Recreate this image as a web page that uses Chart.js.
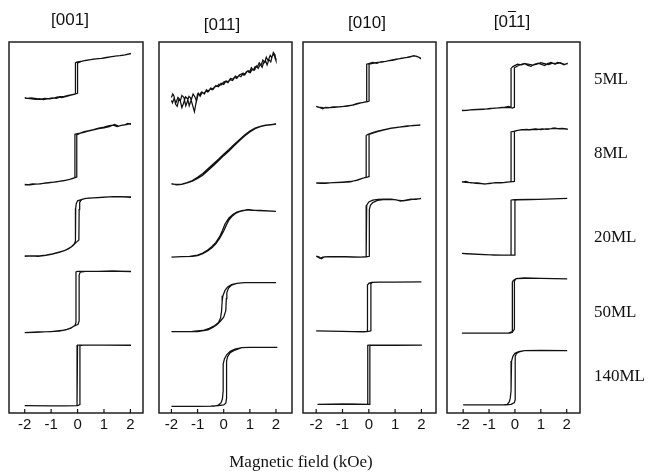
<!DOCTYPE html>
<html>
<head>
<meta charset="utf-8">
<script src="https://cdn.jsdelivr.net/npm/chart.js@4.4.0/dist/chart.umd.min.js"></script>
<style>
  body { margin: 0; background: #fff; }
  #fig { position: relative; width: 649px; height: 472px; overflow: hidden; }
  #fig canvas { position: absolute; left: 0; top: 0; }
  .dir { position: absolute; font: 17px "Liberation Sans", Arial, sans-serif; color: #111; transform: translate(-50%, -50%); white-space: nowrap; }
  .ml { position: absolute; left: 594px; font: 17px "Liberation Serif", "Times New Roman", serif; color: #111; transform: translateY(-50%); }
  .xlab { position: absolute; left: 301px; top: 462px; font: 17px "Liberation Serif", "Times New Roman", serif; color: #111; transform: translate(-50%, -50%); white-space: nowrap; }
  .bar { text-decoration: overline; }
</style>
</head>
<body>
<div id="fig">
  <canvas id="c0" width="649" height="472"></canvas>
  <canvas id="c1" width="649" height="472"></canvas>
  <canvas id="c2" width="649" height="472"></canvas>
  <canvas id="c3" width="649" height="472"></canvas>
  <div class="dir" style="left:70px;top:20px">[001]</div>
  <div class="dir" style="left:222px;top:25px">[011]</div>
  <div class="dir" style="left:367px;top:23px">[010]</div>
  <div class="dir" style="left:512px;top:22px">[0<span class="bar">1</span>1]</div>
  <div class="ml" style="top:79px">5ML</div>
  <div class="ml" style="top:153px">8ML</div>
  <div class="ml" style="top:237px">20ML</div>
  <div class="ml" style="top:312px">50ML</div>
  <div class="ml" style="top:376px">140ML</div>
  <div class="xlab">Magnetic field (kOe)</div>
</div>
<script>
// thickness rows, top to bottom
const thicknesses = ['5ML', '8ML', '20ML', '50ML', '140ML'];
const fieldTicks = [-2, -1, 0, 1, 2];

// each loop: [field kOe, Kerr signal] - ascending branch, then descending branch
const loops001 = [
  [[-2.0,-0.64],[-1.8,-0.66],[-1.6,-0.68],[-1.45,-0.66],[-1.3,-0.69],[-1.1,-0.66],[-0.95,-0.63],[-0.8,-0.65],[-0.65,-0.6],[-0.5,-0.58],[-0.35,-0.55],[-0.2,-0.52],[0.0,-0.48],[0.0,0.54],[0.15,0.6],[0.3,0.63],[0.5,0.66],[0.7,0.68],[0.9,0.7],[1.1,0.73],[1.3,0.76],[1.5,0.78],[1.7,0.8],[1.9,0.83],[2.0,0.85],
   [2.0,0.86],[1.8,0.82],[1.6,0.79],[1.4,0.77],[1.2,0.74],[1.0,0.71],[0.8,0.69],[0.6,0.67],[0.4,0.64],[0.2,0.61],[0.0,0.58],[-0.08,0.55],[-0.08,-0.5],[-0.25,-0.54],[-0.45,-0.59],[-0.6,-0.62],[-0.75,-0.6],[-0.9,-0.64],[-1.05,-0.67],[-1.25,-0.65],[-1.4,-0.68],[-1.55,-0.66],[-1.75,-0.63],[-1.9,-0.65],[-2.0,-0.62]],
  [[-2.0,-1.05],[-1.8,-1.06],[-1.6,-1.04],[-1.4,-1.03],[-1.2,-1.0],[-1.0,-0.98],[-0.8,-0.96],[-0.6,-0.93],[-0.4,-0.9],[-0.2,-0.85],[-0.03,-0.8],[-0.03,0.62],[0.1,0.68],[0.25,0.73],[0.4,0.76],[0.6,0.8],[0.8,0.85],[1.0,0.88],[1.2,0.93],[1.35,0.95],[1.5,0.9],[1.65,0.94],[1.8,0.96],[1.9,1.01],[2.0,0.98],
   [2.0,1.0],[1.85,0.97],[1.7,0.95],[1.55,0.92],[1.4,0.97],[1.2,0.9],[1.0,0.86],[0.8,0.83],[0.6,0.79],[0.4,0.75],[0.2,0.7],[0.0,0.66],[-0.1,0.64],[-0.1,-0.82],[-0.3,-0.88],[-0.5,-0.92],[-0.7,-0.95],[-0.9,-0.97],[-1.1,-1.0],[-1.3,-1.01],[-1.5,-1.04],[-1.7,-1.03],[-1.9,-1.06],[-2.0,-1.07]],
  [[-2.0,-0.96],[-1.7,-0.96],[-1.45,-0.96],[-1.2,-0.93],[-0.95,-0.89],[-0.7,-0.83],[-0.5,-0.78],[-0.35,-0.72],[-0.2,-0.63],[-0.05,-0.5],[0.05,-0.42],[0.06,0.6],[0.08,0.85],[0.15,0.94],[0.3,0.98],[0.6,1.0],[1.0,1.02],[1.4,1.04],[1.7,1.03],[2.0,1.02],
   [2.0,1.03],[1.6,1.04],[1.2,1.03],[0.8,1.01],[0.4,0.99],[0.2,0.96],[0.0,0.9],[-0.05,0.8],[-0.07,0.65],[-0.08,-0.45],[-0.12,-0.55],[-0.25,-0.66],[-0.45,-0.76],[-0.7,-0.84],[-0.95,-0.9],[-1.2,-0.94],[-1.5,-0.97],[-1.75,-0.96],[-2.0,-0.97]],
  [[-2.0,-1.04],[-1.5,-1.02],[-1.0,-1.01],[-0.6,-0.97],[-0.4,-0.93],[-0.25,-0.88],[-0.12,-0.82],[0.02,-0.76],[0.06,-0.65],[0.06,0.9],[0.1,1.0],[0.3,1.02],[0.8,1.02],[1.3,1.03],[2.0,1.01],
   [2.0,1.02],[1.4,1.03],[0.8,1.02],[0.3,1.02],[0.0,1.02],[-0.06,1.0],[-0.06,-0.7],[-0.1,-0.8],[-0.25,-0.89],[-0.45,-0.95],[-0.7,-0.99],[-1.2,-1.02],[-1.6,-1.03],[-2.0,-1.04]],
  [[-2.0,-1.01],[-0.5,-1.01],[0.0,-1.0],[0.09,-0.97],[0.09,1.02],[0.2,1.04],[1.0,1.04],[2.0,1.03],
   [2.0,1.04],[1.0,1.04],[0.0,1.04],[-0.02,1.03],[-0.02,-1.0],[-0.1,-1.01],[-1.0,-1.01],[-2.0,-1.0]]
];

const loops011 = [
  [[-2.0,-0.62],[-1.95,-0.5],[-1.9,-0.58],[-1.84,-0.85],[-1.78,-0.92],[-1.72,-0.7],[-1.66,-0.74],[-1.6,-0.55],[-1.52,-0.62],[-1.45,-0.9],[-1.4,-0.78],[-1.33,-0.58],[-1.27,-0.63],[-1.2,-0.85],[-1.12,-1.1],[-1.06,-0.8],[-1.0,-0.5],[-0.92,-0.52],[-0.85,-0.44],[-0.76,-0.48],[-0.68,-0.4],[-0.62,-0.43],[-0.52,-0.33],[-0.44,-0.36],[-0.35,-0.26],[-0.25,-0.24],[-0.18,-0.17],[-0.1,-0.2],[0.0,-0.1],[0.1,-0.06],[0.17,-0.09],[0.26,0.02],[0.35,0.0],[0.45,0.1],[0.52,0.06],[0.6,0.14],[0.7,0.18],[0.78,0.13],[0.86,0.24],[0.95,0.28],[1.02,0.22],[1.1,0.34],[1.18,0.3],[1.25,0.44],[1.32,0.36],[1.4,0.5],[1.47,0.4],[1.53,0.56],[1.6,0.62],[1.66,0.48],[1.73,0.66],[1.8,0.58],[1.86,0.78],[1.92,0.84],[1.97,0.7],[2.0,0.62],
   [2.0,0.62],[1.96,0.82],[1.9,0.9],[1.84,0.72],[1.78,0.8],[1.7,0.62],[1.63,0.74],[1.57,0.56],[1.5,0.64],[1.43,0.46],[1.36,0.55],[1.28,0.4],[1.2,0.42],[1.13,0.3],[1.06,0.38],[0.98,0.22],[0.9,0.27],[0.82,0.16],[0.74,0.2],[0.66,0.08],[0.58,0.12],[0.5,0.02],[0.42,0.06],[0.34,-0.05],[0.25,-0.02],[0.16,-0.12],[0.08,-0.08],[0.0,-0.18],[-0.1,-0.14],[-0.2,-0.26],[-0.3,-0.22],[-0.4,-0.34],[-0.5,-0.3],[-0.58,-0.42],[-0.66,-0.36],[-0.74,-0.5],[-0.82,-0.44],[-0.9,-0.58],[-0.97,-0.48],[-1.04,-0.75],[-1.1,-0.6],[-1.17,-0.5],[-1.25,-0.72],[-1.32,-0.9],[-1.38,-0.66],[-1.46,-0.6],[-1.54,-0.82],[-1.6,-0.96],[-1.67,-0.7],[-1.75,-0.62],[-1.82,-0.78],[-1.9,-0.66],[-1.96,-0.8],[-2.0,-0.72]],
  [[-2.0,-1.03],[-1.8,-1.06],[-1.6,-1.05],[-1.4,-1.0],[-1.2,-0.94],[-1.0,-0.85],[-0.8,-0.74],[-0.6,-0.58],[-0.4,-0.42],[-0.2,-0.25],[0.0,-0.08],[0.2,0.08],[0.4,0.25],[0.6,0.42],[0.8,0.58],[1.0,0.72],[1.2,0.83],[1.4,0.9],[1.6,0.94],[1.8,0.96],[2.0,0.98],
   [2.0,0.98],[1.8,0.97],[1.6,0.95],[1.4,0.91],[1.2,0.85],[1.0,0.75],[0.8,0.62],[0.6,0.46],[0.4,0.3],[0.2,0.13],[0.0,-0.03],[-0.2,-0.2],[-0.4,-0.36],[-0.6,-0.52],[-0.8,-0.68],[-1.0,-0.81],[-1.2,-0.92],[-1.4,-0.99],[-1.6,-1.04],[-1.8,-1.05],[-2.0,-1.04]],
  [[-2.0,-1.0],[-1.6,-0.98],[-1.2,-0.97],[-1.0,-0.95],[-0.8,-0.88],[-0.6,-0.78],[-0.45,-0.68],[-0.3,-0.55],[-0.15,-0.36],[0.0,-0.12],[0.1,0.08],[0.2,0.25],[0.3,0.36],[0.45,0.47],[0.6,0.53],[0.8,0.58],[1.0,0.59],[1.3,0.57],[1.6,0.56],[1.8,0.55],[2.0,0.54],
   [2.0,0.54],[1.7,0.56],[1.4,0.58],[1.1,0.58],[0.9,0.59],[0.7,0.57],[0.5,0.52],[0.35,0.44],[0.2,0.32],[0.05,0.12],[-0.05,-0.1],[-0.15,-0.3],[-0.3,-0.5],[-0.45,-0.64],[-0.6,-0.75],[-0.8,-0.86],[-1.0,-0.93],[-1.3,-0.97],[-1.6,-0.98],[-2.0,-1.0]],
  [[-2.0,-1.01],[-1.0,-1.01],[-0.6,-0.95],[-0.4,-0.86],[-0.25,-0.77],[-0.12,-0.65],[0.0,-0.52],[0.08,-0.3],[0.1,0.1],[0.12,0.3],[0.18,0.45],[0.3,0.56],[0.5,0.62],[0.8,0.64],[1.4,0.64],[2.0,0.64],
   [2.0,0.64],[1.4,0.64],[0.8,0.64],[0.5,0.62],[0.3,0.58],[0.15,0.5],[0.05,0.38],[-0.03,0.2],[-0.06,0.0],[-0.08,-0.3],[-0.12,-0.55],[-0.2,-0.7],[-0.34,-0.8],[-0.55,-0.9],[-0.8,-0.97],[-1.2,-1.0],[-2.0,-1.01]],
  [[-2.0,-1.03],[-1.0,-1.03],[-0.5,-1.02],[-0.2,-1.0],[0.0,-0.98],[0.08,-0.92],[0.11,-0.75],[0.11,0.5],[0.15,0.65],[0.25,0.78],[0.43,0.87],[0.69,0.95],[1.0,0.96],[2.05,0.96],
   [2.05,0.96],[1.0,0.96],[0.69,0.95],[0.43,0.9],[0.25,0.83],[0.12,0.72],[0.03,0.58],[-0.02,0.4],[-0.02,-0.5],[-0.05,-0.78],[-0.1,-0.9],[-0.2,-0.98],[-0.35,-1.02],[-1.0,-1.03],[-2.0,-1.03]]
];

const loops010 = [
  [[-2.0,-0.93],[-1.85,-0.96],[-1.75,-1.0],[-1.65,-0.95],[-1.5,-0.96],[-1.3,-0.95],[-1.05,-0.93],[-0.8,-0.91],[-0.6,-0.87],[-0.43,-0.82],[-0.25,-0.79],[-0.05,-0.76],[0.01,-0.74],[0.01,0.5],[0.15,0.53],[0.33,0.56],[0.5,0.57],[0.71,0.61],[0.9,0.63],[1.05,0.66],[1.21,0.7],[1.4,0.72],[1.55,0.74],[1.71,0.79],[1.85,0.76],[1.96,0.7],
   [1.96,0.71],[1.8,0.77],[1.65,0.77],[1.45,0.73],[1.25,0.7],[1.05,0.67],[0.85,0.64],[0.65,0.6],[0.45,0.58],[0.3,0.53],[0.15,0.56],[0.0,0.52],[-0.08,0.5],[-0.08,-0.76],[-0.2,-0.78],[-0.4,-0.83],[-0.6,-0.88],[-0.85,-0.9],[-1.1,-0.94],[-1.35,-0.94],[-1.55,-0.97],[-1.75,-0.96],[-1.9,-0.94],[-2.0,-0.92]],
  [[-2.0,-1.01],[-1.6,-1.0],[-1.3,-0.99],[-1.0,-0.98],[-0.7,-0.96],[-0.45,-0.9],[-0.25,-0.84],[-0.05,-0.8],[0.01,-0.78],[0.01,0.64],[0.15,0.68],[0.33,0.73],[0.55,0.78],[0.83,0.84],[1.1,0.87],[1.46,0.92],[1.7,0.93],[1.96,0.95],
   [1.96,0.95],[1.7,0.94],[1.45,0.91],[1.15,0.88],[0.85,0.85],[0.55,0.79],[0.3,0.74],[0.1,0.68],[-0.05,0.63],[-0.1,0.6],[-0.1,-0.8],[-0.25,-0.85],[-0.45,-0.91],[-0.7,-0.95],[-1.0,-0.97],[-1.35,-0.99],[-1.65,-1.01],[-2.0,-1.0]],
  [[-2.0,-0.96],[-1.9,-0.99],[-1.8,-1.05],[-1.7,-0.99],[-1.5,-0.98],[-1.2,-0.98],[-0.9,-0.99],[-0.6,-1.0],[-0.3,-1.0],[-0.1,-0.99],[0.02,-0.97],[0.02,0.6],[0.06,0.75],[0.15,0.84],[0.33,0.91],[0.55,0.94],[0.83,0.95],[1.05,0.93],[1.21,0.89],[1.4,0.92],[1.6,0.96],[1.8,0.95],[1.96,0.98],
   [1.96,0.97],[1.75,0.96],[1.55,0.93],[1.3,0.9],[1.1,0.92],[0.85,0.96],[0.6,0.96],[0.35,0.95],[0.15,0.92],[0.0,0.86],[-0.08,0.75],[-0.1,0.62],[-0.1,-0.98],[-0.3,-1.0],[-0.6,-0.99],[-0.9,-0.98],[-1.2,-0.99],[-1.5,-0.98],[-1.75,-1.0],[-1.85,-1.04],[-2.0,-0.97]],
  [[-2.0,-0.98],[-1.0,-1.0],[-0.2,-1.02],[0.0,-1.0],[0.08,-0.98],[0.08,0.6],[0.14,0.65],[0.4,0.66],[1.0,0.66],[2.0,0.67],
   [2.0,0.67],[1.0,0.66],[0.4,0.66],[0.1,0.65],[0.0,0.62],[-0.05,0.56],[-0.05,-0.98],[-0.1,-1.01],[-1.0,-1.0],[-2.0,-0.98]],
  [[-1.95,-0.96],[-0.6,-0.95],[0.04,-0.96],[0.04,1.04],[1.0,1.03],[2.02,1.04],
   [2.02,1.04],[1.0,1.04],[0.01,1.04],[-0.04,1.03],[-0.04,-0.96],[-0.1,-0.96],[-1.0,-0.95],[-1.95,-0.96]]
];

const loops0m11 = [
  [[-2.05,-1.06],[-1.85,-1.05],[-1.65,-1.03],[-1.45,-1.02],[-1.25,-1.01],[-1.0,-1.0],[-0.8,-0.98],[-0.6,-0.97],[-0.4,-0.95],[-0.25,-0.92],[-0.1,-0.98],[-0.02,-0.95],[-0.02,0.38],[0.1,0.44],[0.25,0.5],[0.36,0.53],[0.5,0.46],[0.62,0.43],[0.75,0.5],[0.9,0.54],[1.0,0.5],[1.15,0.46],[1.26,0.52],[1.4,0.56],[1.55,0.5],[1.64,0.56],[1.8,0.52],[1.9,0.48],[2.02,0.53],
   [2.02,0.52],[1.9,0.5],[1.75,0.55],[1.6,0.52],[1.45,0.54],[1.3,0.49],[1.15,0.52],[1.0,0.55],[0.85,0.5],[0.7,0.47],[0.55,0.5],[0.4,0.52],[0.25,0.48],[0.1,0.5],[-0.08,0.42],[-0.15,0.36],[-0.15,-0.95],[-0.3,-0.96],[-0.5,-0.95],[-0.7,-0.98],[-0.95,-0.99],[-1.2,-1.02],[-1.45,-1.03],[-1.7,-1.04],[-1.9,-1.05],[-2.05,-1.05]],
  [[-2.05,-0.96],[-1.9,-0.98],[-1.7,-0.99],[-1.5,-1.01],[-1.3,-1.02],[-1.15,-1.04],[-1.0,-1.01],[-0.8,-1.0],[-0.6,-0.99],[-0.4,-0.98],[-0.2,-0.96],[-0.02,-0.95],[-0.02,0.74],[0.1,0.77],[0.25,0.79],[0.45,0.81],[0.6,0.79],[0.8,0.82],[1.0,0.8],[1.2,0.82],[1.4,0.83],[1.55,0.85],[1.7,0.82],[1.85,0.83],[2.02,0.81],
   [2.02,0.82],[1.85,0.84],[1.65,0.83],[1.45,0.84],[1.25,0.81],[1.05,0.82],[0.85,0.8],[0.65,0.81],[0.45,0.79],[0.25,0.8],[0.05,0.76],[-0.1,0.73],[-0.15,0.72],[-0.15,-0.96],[-0.35,-0.98],[-0.55,-1.0],[-0.75,-0.99],[-1.0,-1.02],[-1.2,-1.03],[-1.45,-1.0],[-1.7,-1.0],[-1.9,-0.95],[-2.05,-0.97]],
  [[-2.05,-0.87],[-1.5,-0.9],[-0.8,-0.93],[-0.3,-0.93],[0.0,-0.93],[0.0,0.92],[0.1,0.93],[0.6,0.94],[1.2,0.96],[2.02,0.98],
   [2.02,0.98],[1.2,0.96],[0.6,0.95],[0.0,0.94],[-0.1,0.93],[-0.15,0.92],[-0.15,-0.93],[-0.5,-0.93],[-1.2,-0.91],[-2.05,-0.88]],
  [[-2.05,-1.06],[-1.0,-1.06],[-0.25,-1.06],[-0.08,-1.0],[-0.02,-0.92],[-0.02,0.7],[0.05,0.78],[0.36,0.8],[1.0,0.79],[2.02,0.77],
   [2.02,0.77],[1.0,0.79],[0.36,0.79],[0.05,0.78],[-0.06,0.72],[-0.1,0.66],[-0.1,-1.03],[-0.2,-1.06],[-1.0,-1.06],[-2.05,-1.06]],
  [[-2.0,-0.98],[-1.0,-0.98],[-0.35,-0.98],[-0.15,-0.96],[-0.02,-0.9],[0.01,-0.8],[0.01,0.65],[0.06,0.76],[0.2,0.82],[0.36,0.85],[1.0,0.86],[2.02,0.85],
   [2.02,0.85],[1.0,0.86],[0.36,0.85],[0.15,0.82],[0.0,0.76],[-0.08,0.66],[-0.13,0.5],[-0.15,0.2],[-0.15,-0.5],[-0.18,-0.75],[-0.22,-0.88],[-0.3,-0.96],[-0.45,-0.98],[-1.0,-0.98],[-2.0,-0.98]]
];

const panelLoops = [loops001, loops011, loops010, loops0m11];

// layout: panel box in page pixels and field range shown
const panels = [
  { left: 9,   right: 143, xmin: -2.595, xmax: 2.477 },
  { left: 159, right: 292, xmin: -2.475, xmax: 2.613 },
  { left: 303, right: 436, xmin: -2.502, xmax: 2.555 },
  { left: 447, right: 580, xmin: -2.625, xmax: 2.514 },
];
const ROW = 2.5;
const BOX_TOP = 42, AXIS_H = 30, PAD_BOTTOM = 29;

const boxPlugin = {
  id: 'box',
  afterDraw(chart) {
    const { ctx, chartArea: a } = chart;
    const x = chart.scales.x;
    ctx.save();
    ctx.strokeStyle = '#111';
    ctx.lineWidth = 1.4;
    ctx.strokeRect(a.left, a.top, a.right - a.left, a.bottom - a.top);
    ctx.lineWidth = 1.2;
    x.ticks.forEach(t => {
      const px = x.getPixelForValue(t.value);
      ctx.beginPath();
      ctx.moveTo(px, a.bottom);
      ctx.lineTo(px, a.bottom - 4);
      ctx.stroke();
    });
    ctx.restore();
  }
};

panels.forEach((p, pi) => {
  const datasets = panelLoops[pi].map((loop, i) => ({
    label: thicknesses[i],
    data: loop.map(([h, m]) => ({ x: h, y: ROW * (thicknesses.length - 1 - i) + ROW / 2 + m })),
    showLine: true,
    borderColor: '#111',
    borderWidth: 1.25,
    pointRadius: 0,
    tension: 0,
    fill: false
  }));

  new Chart(document.getElementById('c' + pi), {
    type: 'scatter',
    data: { datasets },
    options: {
      responsive: false,
      animation: false,
      events: [],
      layout: { padding: { left: p.left, right: 649 - p.right, top: BOX_TOP, bottom: PAD_BOTTOM } },
      plugins: { legend: { display: false }, tooltip: { enabled: false } },
      scales: {
        x: {
          type: 'linear',
          min: p.xmin,
          max: p.xmax,
          afterBuildTicks: s => { s.ticks = fieldTicks.map(v => ({ value: v })); },
          afterFit: s => { s.height = AXIS_H; },
          grid: { display: false, drawTicks: false },
          border: { display: false },
          ticks: {
            padding: 3,
            color: '#111',
            font: { family: '"Liberation Sans", Arial, sans-serif', size: 15 },
            callback: v => String(v)
          }
        },
        y: {
          display: false,
          min: 0,
          max: ROW * thicknesses.length
        }
      }
    },
    plugins: [boxPlugin]
  });
});
</script>
</body>
</html>
